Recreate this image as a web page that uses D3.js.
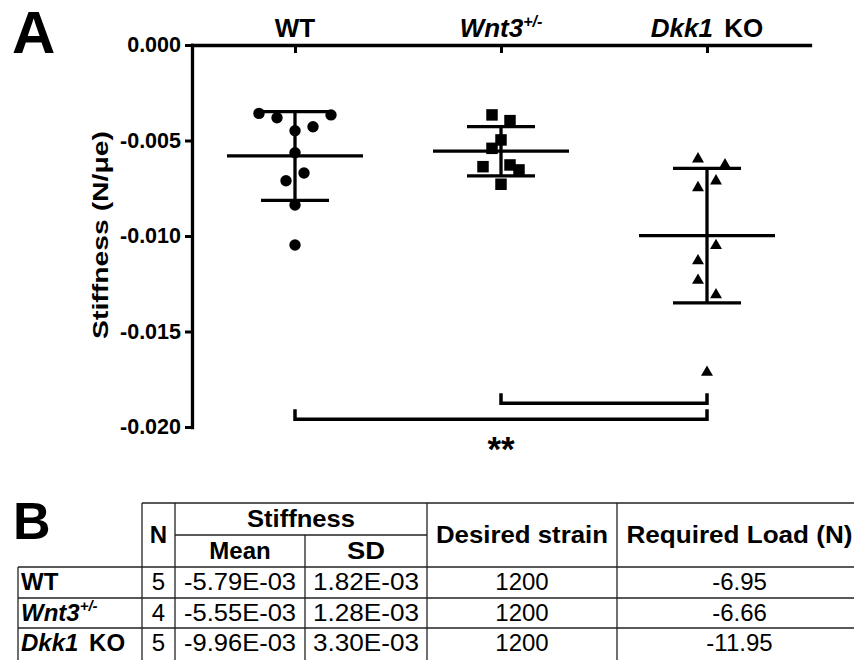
<!DOCTYPE html>
<html>
<head>
<meta charset="utf-8">
<script src="https://cdn.jsdelivr.net/npm/d3@7"></script>
<style>
  body { margin: 0; background: #fff; }
  svg { display: block; font-family: "Liberation Sans", Arial, sans-serif; }
</style>
</head>
<body>
<script>
/* Define data. */
const groups = ["WT", "Wnt3", "Dkk1"]

const wtValues = [-0.00358, -0.00366, -0.00381, -0.00428, -0.00449, -0.00564, -0.00670, -0.00711, -0.00838, -0.01047]
const wtSlots = [-2, 2, -1, 1, 0, 0, 0.5, -0.5, 0, 0]

const wnt3Values = [-0.00366, -0.00396, -0.00497, -0.00541, -0.00628, -0.00637, -0.00654, -0.00729]
const wnt3Slots = [-0.5, 0.5, 0, -0.5, 0.5, -1, 1, 0]

const dkk1Values = [-0.00597, -0.00628, -0.00712, -0.00747, -0.01050, -0.01130, -0.01232, -0.01308, -0.01714]
const dkk1Slots = [-0.5, 1, 0.5, -0.5, 0.5, -0.5, -0.5, 0.5, 0]

const groupMeans = [-0.00581, -0.00556, -0.00998]
const groupSds = [0.00232, 0.00129, 0.00352]

const yTicks = [0, -0.005, -0.010, -0.015, -0.020]

const bracketPairs = [["Wnt3", "Dkk1"], ["WT", "Dkk1"]]
const bracketLevels = [-0.01876, -0.0196]
const bracketLabels = ["", "**"]

/* Label parts (italic / superscript). */
const groupLabels = {
  WT: [{ t: "WT" }],
  Wnt3: [{ t: "Wnt3", i: true }, { t: "+/-", i: true, sup: true }],
  Dkk1: [{ t: "Dkk1", i: true }, { t: " KO", gap: 4 }]
}

/* Table data. */
const tableN = [5, 4, 5]
const tableMean = [-5.79e-3, -5.55e-3, -9.96e-3]
const tableSd = [1.82e-3, 1.28e-3, 3.30e-3]
const tableStrain = [1200, 1200, 1200]
const tableLoad = [-6.95, -6.66, -11.95]

/* Define svg-size. */
const width = 854
const height = 660

const svg = d3.select("body")
  .append("svg")
  .attr("width", width)
  .attr("height", height)

svg.append("rect").attr("width", width).attr("height", height).attr("fill", "#fff")

/* Scales. */
const y = d3.scaleLinear().domain([-0.020, 0]).range([427, 45])
const x = d3.scalePoint().domain(groups).range([192, 810]).padding(0.5)
const slotWidth = 18

/* Helper for rich labels. */
function addParts(text, parts, size, supSize) {
  parts.forEach(p => {
    const ts = text.append("tspan")
      .text(p.t)
      .attr("font-style", p.i ? "italic" : "normal")
    if (p.sup) ts.attr("font-size", supSize).attr("dy", -size * 0.4)
    if (p.gap) ts.attr("dx", p.gap)
  })
}

/* Panel letters. */
svg.append("text").attr("x", 12).attr("y", 53)
  .attr("font-size", 60).attr("font-weight", "bold").text("A")
svg.append("text").attr("x", 13).attr("y", 539)
  .attr("font-size", 52).attr("font-weight", "bold").text("B")

/* Left axis. */
const yAxis = svg.append("g")
  .attr("transform", "translate(192,0)")
  .call(d3.axisLeft(y)
    .tickValues(yTicks)
    .tickFormat(d => d.toFixed(3))
    .tickSize(7)
    .tickSizeOuter(0)
    .tickPadding(4))
yAxis.select(".domain").attr("stroke-width", 3.3).attr("stroke-linecap", "square")
yAxis.selectAll(".tick line").attr("stroke-width", 3)
yAxis.selectAll(".tick text")
  .attr("font-size", 21.5).attr("font-weight", "bold").attr("fill", "#000")
  .attr("font-family", "Liberation Sans, Arial, sans-serif")

/* Top axis. */
const xAxis = svg.append("g")
  .attr("transform", "translate(0,45)")
  .call(d3.axisBottom(x).tickSize(8).tickSizeOuter(0).tickFormat(""))
xAxis.select(".domain").attr("stroke-width", 3.3).attr("stroke-linecap", "square")
xAxis.selectAll(".tick line").attr("stroke-width", 3)

groups.forEach(g => {
  const t = svg.append("text")
    .attr("x", x(g)).attr("y", 37)
    .attr("text-anchor", "middle")
    .attr("font-size", 26).attr("font-weight", "bold")
  addParts(t, groupLabels[g], 26, 16)
})

/* Y label. */
svg.append("text")
  .attr("transform", "translate(108,235) rotate(-90)")
  .attr("text-anchor", "middle")
  .attr("font-size", 22).attr("font-weight", "bold")
  .attr("textLength", 208).attr("lengthAdjust", "spacingAndGlyphs")
  .text("Stiffness (N/\u03bce)")

/* Error bars. */
const meanHalf = 68
const capHalf = 34
groups.forEach((g, i) => {
  const cx = x(g)
  const m = groupMeans[i]
  const s = groupSds[i]
  const eb = svg.append("g").attr("stroke", "#000").attr("stroke-width", 3.3)
  eb.append("line").attr("x1", cx).attr("x2", cx).attr("y1", y(m + s)).attr("y2", y(m - s))
  eb.append("line").attr("x1", cx - meanHalf).attr("x2", cx + meanHalf).attr("y1", y(m)).attr("y2", y(m))
  eb.append("line").attr("x1", cx - capHalf).attr("x2", cx + capHalf).attr("y1", y(m + s)).attr("y2", y(m + s))
  eb.append("line").attr("x1", cx - capHalf).attr("x2", cx + capHalf).attr("y1", y(m - s)).attr("y2", y(m - s))
})

/* Points. */
const series = [
  { group: "WT", values: wtValues, slots: wtSlots, type: d3.symbolCircle, size: 102 },
  { group: "Wnt3", values: wnt3Values, slots: wnt3Slots, type: d3.symbolSquare, size: 132 },
  { group: "Dkk1", values: dkk1Values, slots: dkk1Slots, type: d3.symbolTriangle, size: 62 }
]
series.forEach(s => {
  svg.append("g").selectAll("path")
    .data(s.values)
    .enter()
    .append("path")
    .attr("d", d3.symbol().type(s.type).size(s.size)())
    .attr("transform", (d, i) => `translate(${x(s.group) + s.slots[i] * slotWidth},${y(d)})`)
    .attr("fill", "#000")
})

/* Significance brackets. */
bracketPairs.forEach((p, i) => {
  const x1 = x(p[0])
  const x2 = x(p[1])
  const by = y(bracketLevels[i])
  svg.append("path")
    .attr("d", `M${x1},${by - 10}V${by}H${x2}V${by - 10}`)
    .attr("fill", "none").attr("stroke", "#000").attr("stroke-width", 3.5)
  if (bracketLabels[i]) {
    svg.append("text")
      .attr("x", (x1 + x2) / 2).attr("y", by + 42)
      .attr("text-anchor", "middle")
      .attr("font-size", 35).attr("font-weight", "bold")
      .text(bracketLabels[i])
  }
})

/* Table. */
const sci = d => {
  const [mant, e] = d.toExponential(2).split("e")
  return mant + "E" + (+e < 0 ? "-" : "+") + String(Math.abs(+e)).padStart(2, "0")
}
const cols = [18, 142, 175, 305, 427, 617, 862]
const rowsY = [503, 535, 567, 598, 628, 661]
const tbl = svg.append("g").attr("stroke", "#222").attr("stroke-width", 1.3)
tbl.append("line").attr("x1", cols[1]).attr("x2", cols[6]).attr("y1", rowsY[0]).attr("y2", rowsY[0])
tbl.append("line").attr("x1", cols[2]).attr("x2", cols[4]).attr("y1", rowsY[1]).attr("y2", rowsY[1])
rowsY.slice(2, 5).forEach(ry => {
  tbl.append("line").attr("x1", cols[0]).attr("x2", cols[6]).attr("y1", ry).attr("y2", ry)
})
const colTop = [rowsY[2], rowsY[0], rowsY[0], rowsY[1], rowsY[0], rowsY[0]]
cols.slice(0, 6).forEach((cx, i) => {
  tbl.append("line").attr("x1", cx).attr("x2", cx).attr("y1", colTop[i]).attr("y2", height)
})

const colMid = i => (cols[i] + cols[i + 1]) / 2
const headFont = 24
const addCell = (cx, cy, txt, opts = {}) => {
  const t = svg.append("text")
    .attr("x", cx).attr("y", cy)
    .attr("text-anchor", opts.anchor || "middle")
    .attr("font-size", opts.size || headFont)
    .attr("font-weight", opts.bold ? "bold" : "normal")
  if (opts.parts) addParts(t, opts.parts, opts.size || headFont, 15)
  else t.text(txt)
  if (opts.len) t.attr("textLength", opts.len).attr("lengthAdjust", "spacingAndGlyphs")
  return t
}
addCell(colMid(1), 543, "N", { bold: true })
addCell((cols[2] + cols[4]) / 2, 527, "Stiffness", { bold: true, len: 108 })
addCell(colMid(2), 559, "Mean", { bold: true })
addCell(colMid(3), 559, "SD", { bold: true, len: 38 })
addCell(colMid(4), 543, "Desired strain", { bold: true, len: 172 })
addCell(colMid(5), 543, "Required Load (N)", { bold: true, len: 226 })

const rowBase = [590, 621, 651]
groups.forEach((g, i) => {
  const by = rowBase[i]
  addCell(21, by, "", { anchor: "start", bold: true, parts: groupLabels[g] })
  addCell(colMid(1), by, tableN[i])
  addCell(colMid(2), by, sci(tableMean[i]), { len: 112 })
  addCell(colMid(3), by, sci(tableSd[i]), { len: 106 })
  addCell(colMid(4), by, tableStrain[i])
  addCell(colMid(5), by, tableLoad[i].toFixed(2))
})
</script>
</body>
</html>
